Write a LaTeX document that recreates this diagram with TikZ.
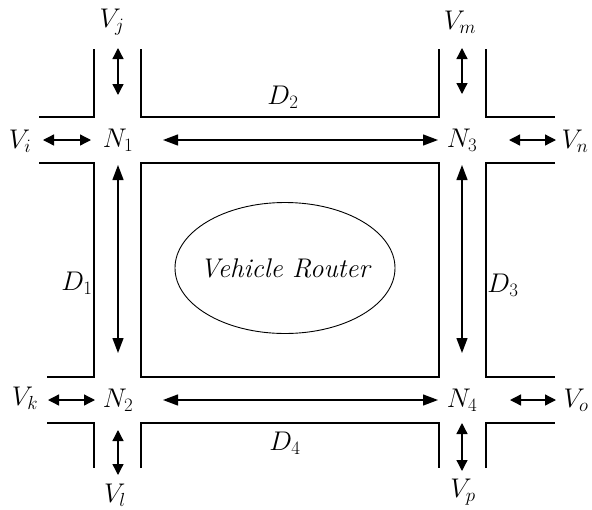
\documentclass[tikz,border=0pt]{standalone}
\usepackage{fix-cm}
\usetikzlibrary{arrows.meta,shapes.geometric}

\begin{document}
\begin{tikzpicture}[x=1pt,y=-1pt,
    lbl/.style={inner sep=0pt, font=\fontsize{27}{32}\selectfont},
    wall/.style={line width=1.1pt},
    road/.style={line width=1.3pt, {Triangle[length=15pt,width=11pt]}-{Triangle[length=15pt,width=11pt]}},
    side/.style={line width=1.3pt, {Triangle[length=11pt,width=11pt]}-{Triangle[length=11pt,width=11pt]}}]
  \useasboundingbox (0,0) rectangle (592,509);
  % walls of the roads
  \draw[wall] (39,117) -- (94,117) -- (94,49);
  \draw[wall] (141,49) -- (141,117) -- (439,117) -- (439,49);
  \draw[wall] (486,49) -- (486,117) -- (555,117);
  \draw[wall] (39,163) -- (94,163) -- (94,377) -- (47,377);
  \draw[wall] (141,163) rectangle (439,377);
  \draw[wall] (555,163) -- (486,163) -- (486,377) -- (555,377);
  \draw[wall] (47,423) -- (94,423) -- (94,468);
  \draw[wall] (141,468) -- (141,423) -- (439,423) -- (439,468);
  \draw[wall] (486,468) -- (486,423) -- (555,423);
  % junctions
  \node[lbl] (N1) at (118,140) {$N_1$};
  \node[lbl] (N2) at (118,400) {$N_2$};
  \node[lbl] (N3) at (462,140) {$N_3$};
  \node[lbl] (N4) at (462,400) {$N_4$};
  % vehicles
  \node[lbl] (Vi) at (20,141) {$V_i$};
  \node[lbl] (Vj) at (112,22) {$V_j$};
  \node[lbl] (Vk) at (25,398) {$V_k$};
  \node[lbl] (Vl) at (115,495) {$V_l$};
  \node[lbl] (Vm) at (460,22) {$V_m$};
  \node[lbl] (Vn) at (575,141) {$V_n$};
  \node[lbl] (Vo) at (576,400) {$V_o$};
  \node[lbl] (Vp) at (463,492) {$V_p$};
  % distances
  \node[lbl] (D1) at (77,283) {$D_1$};
  \node[lbl] (D2) at (283,97) {$D_2$};
  \node[lbl] (D3) at (503,285) {$D_3$};
  \node[lbl] (D4) at (285,443) {$D_4$};
  \node[draw, line width=0.9pt, ellipse, minimum width=220pt, minimum height=131pt] (router) at (285,268) {};
  \node[lbl] (routertext) at (router.center) {\itshape Vehicle Router};
  % road arrows
  \draw[road, shorten <=45pt, shorten >=24pt] (N1.center) -- (N3.center);
  \draw[road, shorten <=45pt, shorten >=24pt] (N2.center) -- (N4.center);
  \draw[road, shorten <=25pt, shorten >=47pt] (N1.center) -- (N2.center);
  \draw[road, shorten <=25pt, shorten >=47pt] (N3.center) -- (N4.center);
  % vehicle arrows
  \draw[side, shorten <=23pt, shorten >=27pt] (Vi.center |- N1.center) -- (N1.center);
  \draw[side, shorten <=26pt, shorten >=45pt] (Vj.center -| N1.center) -- (N1.center);
  \draw[side, shorten <=23pt, shorten >=23pt] (Vk.center |- N2.center) -- (N2.center);
  \draw[side, shorten <=30pt, shorten >=20pt] (N2.center) -- (N2.center |- Vl.center);
  \draw[side, shorten <=26pt, shorten >=46pt] (Vm.center -| N3.center) -- (N3.center);
  \draw[side, shorten <=47pt, shorten >=19pt] (N3.center) -- (N3.center -| Vn.center);
  \draw[side, shorten <=48pt, shorten >=20pt] (N4.center) -- (N4.center -| Vo.center);
  \draw[side, shorten <=23pt, shorten >=21pt] (N4.center) -- (N4.center |- Vp.center);
\end{tikzpicture}
\end{document}
